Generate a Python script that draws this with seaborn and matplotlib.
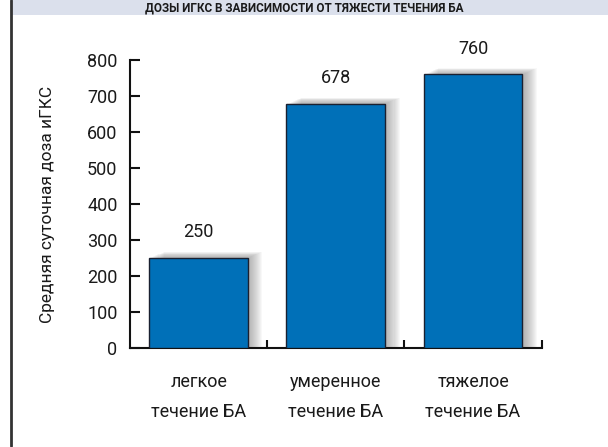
import matplotlib
matplotlib.use("Agg")
import matplotlib.pyplot as plt
import seaborn as sns
import numpy as np
import pandas as pd
from matplotlib.patches import Rectangle
from matplotlib.lines import Line2D

categories = ["легкое\nтечение БА", "умеренное\nтечение БА", "тяжелое\nтечение БА"]
values = [250, 678, 760]
yticks = [0, 100, 200, 300, 400, 500, 600, 700, 800]
ylabel = "Средняя суточная доза иГКС"
title = "ДОЗЫ ИГКС В ЗАВИСИМОСТИ ОТ ТЯЖЕСТИ ТЕЧЕНИЯ БА"

sns.set_theme(style="white")
plt.rcParams['font.family'] = ['Roboto', 'DejaVu Sans']

df = pd.DataFrame({"cat": categories, "val": values})

fig = plt.figure(figsize=(6.08, 4.47), dpi=100)
fig.patch.set_facecolor("white")

# header band and left border
fig.add_artist(Rectangle((11/608, 1 - 15/447), 1 - 11/608, 15/447,
                         transform=fig.transFigure, facecolor="#dbe0ec",
                         edgecolor="none", zorder=0))
fig.add_artist(Line2D([10.5/608, 10.5/608], [1/447, 1], transform=fig.transFigure,
                      color="#333333", linewidth=2))
fig.text(0.5, 1 - 7.5/447, title, ha="center", va="center", fontsize=8.5,
         fontweight="bold", color="#1a1a1a")

ax = fig.add_axes([130/608, 1 - 348/447, 411.7/608, 288/447])

bar_w = 0.72
# soft drop shadow (offset right and up)
n = 14
for i in range(1, n + 1):
    dx = i * 0.0075
    dy = i * 0.45 / 0.36
    ax.bar(np.arange(len(values)) + dx, np.array(values) + dy, width=bar_w,
           color="#808080", alpha=0.055, linewidth=0, zorder=1)

sns.barplot(data=df, x="cat", y="val", color="#0070b8", width=bar_w,
            edgecolor="#1a2030", linewidth=1.0, saturation=1, ax=ax, zorder=3)

ax.bar_label(ax.containers[-1], labels=[str(v) for v in values], padding=12,
             fontsize=13, color="#1a1a1a")

ax.set_xlim(-0.5, len(values) - 0.5)
ax.set_ylim(0, 800)
ax.set_yticks(yticks)
ax.set_yticklabels([str(t) for t in yticks])
ax.set_xlabel("")
ax.set_ylabel(ylabel, fontsize=12.5, color="#1a1a1a")
ax.yaxis.set_label_coords(-0.183, 0.5)

for s in ["top", "right"]:
    ax.spines[s].set_visible(False)
for s in ["left", "bottom"]:
    ax.spines[s].set_color("#111111")
    ax.spines[s].set_linewidth(1.5)

ax.tick_params(axis="y", direction="in", length=7.5, width=1.5, color="#111111",
               pad=9, labelsize=13, labelcolor="#1a1a1a", left=True)
ax.tick_params(axis="x", which="major", length=0, pad=18, labelsize=13,
               labelcolor="#1a1a1a", bottom=True)
ax.set_xticks([0.5, 1.5, 2.5], minor=True)
ax.tick_params(axis="x", which="minor", direction="in", length=5.5, width=1.5,
               color="#111111", bottom=True)
for lbl in ax.get_xticklabels():
    lbl.set_linespacing(1.85)
ax.grid(False)
ax.set_facecolor("none")

fig.savefig("out.png", dpi=100, facecolor="white")
